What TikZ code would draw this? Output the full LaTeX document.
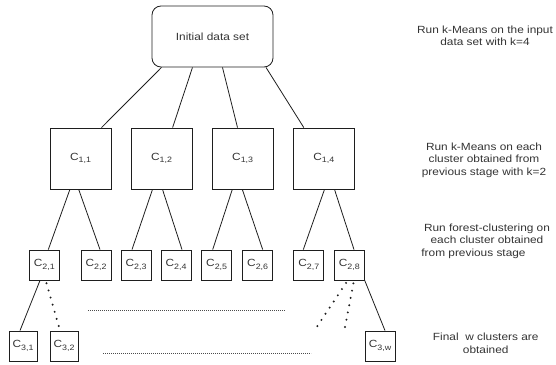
\documentclass[tikz,border=0pt]{standalone}
\usepackage{fontspec}
\setmainfont{Liberation Sans}[FakeStretch=1.14]
\definecolor{ink}{HTML}{333333}
\definecolor{edge}{HTML}{1E1E1E}
% cluster label C with a two-index subscript
\newcommand\csub[1]{C\raisebox{-2.6pt}{\fontsize{7.8}{8}\selectfont #1}}

\begin{document}
\begin{tikzpicture}[x=1pt,y=-1pt,
  every node/.style={font=\fontsize{10.4}{12.6}\selectfont, text=ink},
  sq/.style={draw=edge, line width=0.85pt, inner sep=0pt, minimum size=#1},
  sq/.default=30pt,
  link/.style={draw=edge, line width=0.8pt},
  dotlink/.style={draw=edge, line width=2.2pt, line cap=round, dash pattern=on 0pt off 7.4pt, shorten <=3pt},
  gap/.style={draw=edge!80, line width=0.6pt, dash pattern=on 0.7pt off 1.3pt},
  note/.style={align=center}]

\useasboundingbox (0,0) rectangle (556,364);

% root
\node[draw=edge, line width=0.85pt, rounded corners=9pt, minimum width=121pt, minimum height=61pt, inner sep=0pt]
  (root) at (212.5,36.5) {Initial data set};

% first level
\node[sq=61pt] (c11) at (80.5,158.5) {\csub{1,1}};
\node[sq=61pt] (c12) at (161.6,158.5) {\csub{1,2}};
\node[sq=61pt] (c13) at (242.7,158.5) {\csub{1,3}};
\node[sq=61pt] (c14) at (323.8,158.5) {\csub{1,4}};

% second level
\node[sq] (c21) at (44.3,265) {\csub{2,1}};
\node[sq] (c22) at (96,265) {\csub{2,2}};
\node[sq] (c23) at (136,265) {\csub{2,3}};
\node[sq] (c24) at (176,265) {\csub{2,4}};
\node[sq] (c25) at (216.7,265) {\csub{2,5}};
\node[sq] (c26) at (257.7,265) {\csub{2,6}};
\node[sq] (c27) at (308.8,265) {\csub{2,7}};
\node[sq] (c28) at (349.3,265) {\csub{2,8}};

% final level
\node[sq, minimum width=28pt] (c31) at (23,346) {\csub{3,1}};
\node[sq, minimum width=28pt] (c32) at (64,346) {\csub{3,2}};
\node[sq] (c3w) at (380,346) {\csub{3,w}};

% root to first level
\draw[link] ([xshift=-51pt]root.south) -- ([xshift=21pt]c11.north);
\draw[link] ([xshift=-20pt]root.south) -- ([xshift=11pt]c12.north);
\draw[link] ([xshift=10pt]root.south) -- ([xshift=-5.2pt]c13.north);
\draw[link] ([xshift=53.5pt]root.south) -- ([xshift=-20pt]c14.north);

% first level to second level
\draw[link] ([xshift=-10.6pt]c11.south) -- ([xshift=4pt]c21.north);
\draw[link] ([xshift=-1.8pt]c11.south) -- ([xshift=4pt]c22.north);
\draw[link] ([xshift=-9.1pt]c12.south) -- ([xshift=-4pt]c23.north);
\draw[link] ([xshift=0.9pt]c12.south) -- ([xshift=6pt]c24.north);
\draw[link] ([xshift=-10.4pt]c13.south) -- ([xshift=-4pt]c25.north);
\draw[link] ([xshift=-0.4pt]c13.south) -- ([xshift=5pt]c26.north);
\draw[link] ([xshift=0.7pt]c14.south) -- ([xshift=-5.5pt]c27.north);
\draw[link] ([xshift=10.7pt]c14.south) -- ([xshift=4.7pt]c28.north);

% second level to final level
\draw[link] ([xshift=-4.3pt]c21.south) -- ([xshift=-3pt]c31.north);
\draw[dotlink] ([xshift=1.4pt]c21.south) -- ([xshift=-4pt]c32.north);
\draw[link] (c28.south east) -- ([xshift=5pt]c3w.north);
\coordinate (o1) at (314.3,330.7);
\coordinate (o2) at (344.3,330.7);
\draw[dotlink] ([xshift=-1.6pt]c28.south) -- (o1);
\draw[dotlink] ([xshift=4.7pt]c28.south) -- (o2);

% elided clusters
\coordinate (h1a) at (88,310);
\coordinate (h1b) at (285,310);
\coordinate (h2a) at (103,353.3);
\coordinate (h2b) at (311,353.3);
\draw[gap] (h1a) -- (h1b);
\draw[gap] (h2a) -- (h2b);

% stage descriptions
\node[note] (s1) at (485,35.8) {Run k-Means on the input\\data set with k=4};
\node[note] (s2) at (484,160) {Run k-Means on each\\cluster obtained from\\previous stage with k=2};
\node[note] (s3) at (487,241) {Run forest-clustering on\\each cluster obtained\\from previous stage\hspace*{27pt}};
\node[note] (s4) at (485.7,343.5) {Final\ \ w clusters are\\obtained};
\end{tikzpicture}
\end{document}
